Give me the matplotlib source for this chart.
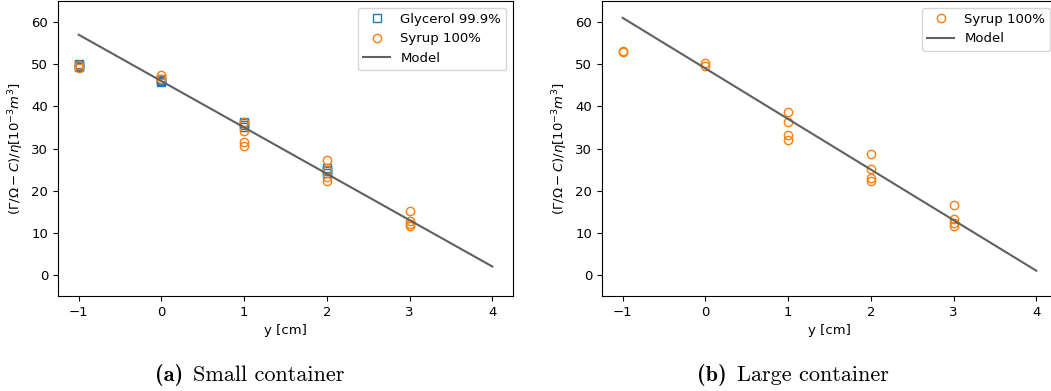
import numpy as np
import matplotlib
matplotlib.use('Agg')
import matplotlib.pyplot as plt

# small container
glyc_y=[-1,-1,-1,-1,0,0,0,0,1,1,1,1,2,2,2,2]
glyc_v=[49.3,49.6,49.9,50.1,45.8,46.0,46.2,46.4,35.2,35.6,36.0,36.3,24.2,24.6,25.0,25.3]
syr_small_y=[-1,-1,0,0,1,1,1,1,2,2,2,2,3,3,3,3]
syr_small_v=[49.8,49.0,47.4,46.4,36.3,34.2,31.6,30.6,27.3,24.9,23.3,22.3,15.2,12.9,12.1,11.6]
model_small=[46.0,-11.0]

# large container
syr_large_y=[-1,-1,0,0,1,1,1,1,2,2,2,2,3,3,3,3]
syr_large_v=[53.2,53.0,50.4,49.6,38.7,36.4,33.2,31.9,28.7,25.2,23.0,22.2,16.5,13.2,12.4,11.7]
model_large=[49.0,-12.0]

plt.rcParams['font.size']=9.5
plt.rcParams['lines.linewidth']=1.5

W,H=1051,391
fig=plt.figure(figsize=(W/100,H/100),dpi=100)

def px(x0,y0,x1,y1):
    return [x0/W,1-y1/H,(x1-x0)/W,(y1-y0)/H]

ax1=fig.add_axes(px(58,1,513,296))
ax2=fig.add_axes(px(602,1,1057,296))

xm=np.array([-1,4])
ylab=r'$(\Gamma/\Omega-C)/\eta[10^{-3}m^3]$'

ax1.plot(glyc_y,glyc_v,'s',mfc='none',mec='#1f77b4',ms=5.5,label='Glycerol 99.9%')
ax1.plot(syr_small_y,syr_small_v,'o',mfc='none',mec='#ff7f0e',ms=6,label='Syrup 100%')
ax1.plot(xm,model_small[0]+model_small[1]*xm,color='#606060',lw=1.5,label='Model')

ax2.plot(syr_large_y,syr_large_v,'o',mfc='none',mec='#ff7f0e',ms=6,label='Syrup 100%')
ax2.plot(xm,model_large[0]+model_large[1]*xm,color='#606060',lw=1.5,label='Model')

for ax in [ax1,ax2]:
    ax.set_ylim(-5,65)
    ax.set_xlim(-1.25,4.25)
    ax.set_xticks([-1,0,1,2,3,4])
    ax.set_yticks([0,10,20,30,40,50,60])
    ax.set_xlabel('y [cm]')
    ax.set_ylabel(ylab)
    ax.legend(loc='upper right')

# captions: bold tag then roman text on the same baseline
captions=[('(a)','Small container',155),('(b)','Large container',697)]
fig.canvas.draw()
r=fig.canvas.get_renderer()
for tag,txt,x0 in captions:
    t=fig.text(x0/W,1-381/H,tag,family='cmb10',fontsize=16,ha='left',va='baseline')
    bb=t.get_window_extent(renderer=r)
    fig.text((bb.x1+10)/W,1-381/H,txt,family='cmr10',fontsize=16,ha='left',va='baseline')

fig.savefig('out.png',dpi=100)
